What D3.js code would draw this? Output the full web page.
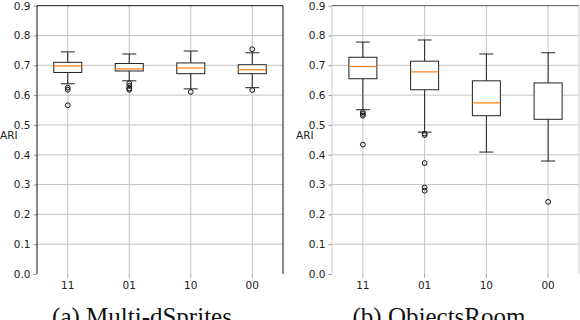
<!DOCTYPE html>
<html>
<head>
<meta charset="utf-8">
<script src="https://cdn.jsdelivr.net/npm/d3@7"></script>
<style>
  body { margin: 0; background: #fff; }
  svg { display: block; }
  .tick text { font-family: "DejaVu Sans", sans-serif; font-size: 10.5px; fill: #222; }
</style>
</head>
<body>
<div id="vis"></div>
<script>
// categories on the x axis
var categories = ["11", "01", "10", "00"];
var yTicks = [0.0, 0.1, 0.2, 0.3, 0.4, 0.5, 0.6, 0.7, 0.8, 0.9];

// (a) Multi-dSprites
var msLow    = [0.638, 0.648, 0.621, 0.625];
var msQ1     = [0.676, 0.681, 0.672, 0.672];
var msMedian = [0.698, 0.688, 0.691, 0.685];
var msQ3     = [0.710, 0.706, 0.708, 0.702];
var msHigh   = [0.745, 0.738, 0.748, 0.742];
var msOut    = [[0.625, 0.618, 0.566], [0.640, 0.631, 0.622, 0.618], [0.611], [0.754, 0.617]];

// (b) ObjectsRoom (median of "00" not visible in the picture)
var orLow    = [0.551, 0.476, 0.409, 0.379];
var orQ1     = [0.655, 0.618, 0.531, 0.519];
var orMedian = [0.696, 0.678, 0.574, null];
var orQ3     = [0.727, 0.714, 0.648, 0.641];
var orHigh   = [0.778, 0.785, 0.738, 0.742];
var orOut    = [[0.543, 0.537, 0.531, 0.434], [0.471, 0.466, 0.372, 0.290, 0.279], [], [0.242]];

var width = 580, height = 320;
var svg = d3.select("#vis").append("svg").attr("width", width).attr("height", height);

function toRows(lo, q1, med, q3, hi, out) {
  return categories.map(function(c, i) {
    return {cat: c, lo: lo[i], q1: q1[i], med: med[i], q3: q3[i], hi: hi[i], out: out[i]};
  });
}

function drawPanel(opt) {
  var x = d3.scaleBand().domain(categories).range([opt.left, opt.right]).padding(0);
  var y = d3.scaleLinear().domain([0, 0.9]).range([274, 5.7]);
  var g = svg.append("g");
  var boxW = 28, capW = 14;

  // grid
  g.selectAll(".hgrid").data(yTicks.filter(function(d) { return d > 0 && d < 0.9; }))
    .enter().append("line")
    .attr("x1", opt.left).attr("x2", opt.right)
    .attr("y1", function(d) { return y(d); }).attr("y2", function(d) { return y(d); })
    .attr("stroke", "#c4c4c4").attr("stroke-width", 1);
  g.selectAll(".vgrid").data(categories).enter().append("line")
    .attr("x1", function(d) { return x(d) + x.bandwidth() / 2; })
    .attr("x2", function(d) { return x(d) + x.bandwidth() / 2; })
    .attr("y1", y(0.9)).attr("y2", y(0))
    .attr("stroke", "#c4c4c4").attr("stroke-width", 1);

  // axes
  var ya = g.append("g").attr("transform", "translate(" + opt.left + ",0)")
    .call(d3.axisLeft(y).tickValues(yTicks).tickFormat(d3.format(".1f")).tickSize(3.5).tickPadding(3));
  ya.select(".domain").remove();
  ya.selectAll(".tick line").attr("stroke", "#999");

  var xa = g.append("g").attr("transform", "translate(0," + y(0) + ")")
    .call(d3.axisBottom(x).tickSize(3.5).tickPadding(4));
  xa.select(".domain").remove();
  xa.selectAll(".tick line").attr("stroke", "#999");

  // spines
  g.append("line").attr("x1", opt.left).attr("x2", opt.right).attr("y1", y(0.9)).attr("y2", y(0.9))
    .attr("stroke", opt.topSpine);
  g.append("line").attr("x1", opt.left).attr("x2", opt.left).attr("y1", y(0.9)).attr("y2", y(0))
    .attr("stroke", opt.sideSpine);
  g.append("line").attr("x1", opt.right).attr("x2", opt.right).attr("y1", y(0.9)).attr("y2", y(0))
    .attr("stroke", opt.sideSpine);

  // boxes
  var b = g.selectAll(".box").data(opt.rows).enter().append("g")
    .attr("transform", function(d) { return "translate(" + (x(d.cat) + x.bandwidth() / 2) + ",0)"; });
  b.append("line").attr("x1", 0).attr("x2", 0)
    .attr("y1", function(d) { return y(d.hi); }).attr("y2", function(d) { return y(d.q3); })
    .attr("stroke", "#222");
  b.append("line").attr("x1", 0).attr("x2", 0)
    .attr("y1", function(d) { return y(d.q1); }).attr("y2", function(d) { return y(d.lo); })
    .attr("stroke", "#222");
  b.append("line").attr("x1", -capW / 2).attr("x2", capW / 2)
    .attr("y1", function(d) { return y(d.hi); }).attr("y2", function(d) { return y(d.hi); })
    .attr("stroke", "#222");
  b.append("line").attr("x1", -capW / 2).attr("x2", capW / 2)
    .attr("y1", function(d) { return y(d.lo); }).attr("y2", function(d) { return y(d.lo); })
    .attr("stroke", "#222");
  b.append("rect").attr("x", -boxW / 2).attr("width", boxW)
    .attr("y", function(d) { return y(d.q3); })
    .attr("height", function(d) { return y(d.q1) - y(d.q3); })
    .attr("fill", "#fff").attr("stroke", "#222");
  b.filter(function(d) { return d.med != null; }).append("line")
    .attr("x1", -boxW / 2).attr("x2", boxW / 2)
    .attr("y1", function(d) { return y(d.med); }).attr("y2", function(d) { return y(d.med); })
    .attr("stroke", "#ff7f0e").attr("stroke-width", 1.2);
  b.selectAll(".flier").data(function(d) { return d.out; }).enter().append("circle")
    .attr("cx", 0).attr("cy", function(d) { return y(d); }).attr("r", 2.4)
    .attr("fill", "none").attr("stroke", "#111").attr("stroke-width", 1);

  // y label
  svg.append("text").attr("x", opt.labelX).attr("y", 139)
    .attr("font-family", "DejaVu Sans, sans-serif").attr("font-size", "10.5px").attr("fill", "#222")
    .text("ARI");

  // caption
  svg.append("text").attr("x", opt.captionX).attr("y", 325).attr("text-anchor", "middle")
    .attr("font-family", "Liberation Serif, Times New Roman, serif").attr("font-size", "25px").attr("fill", "#111")
    .text(opt.caption);
}

drawPanel({left: 37, right: 283, labelX: 0, captionX: 142, caption: "(a) Multi-dSprites",
  topSpine: "#111", sideSpine: "#111",
  rows: toRows(msLow, msQ1, msMedian, msQ3, msHigh, msOut)});
drawPanel({left: 332, right: 579, labelX: 296, captionX: 439, caption: "(b) ObjectsRoom",
  topSpine: "#555", sideSpine: "#ccc",
  rows: toRows(orLow, orQ1, orMedian, orQ3, orHigh, orOut)});
</script>
</body>
</html>
